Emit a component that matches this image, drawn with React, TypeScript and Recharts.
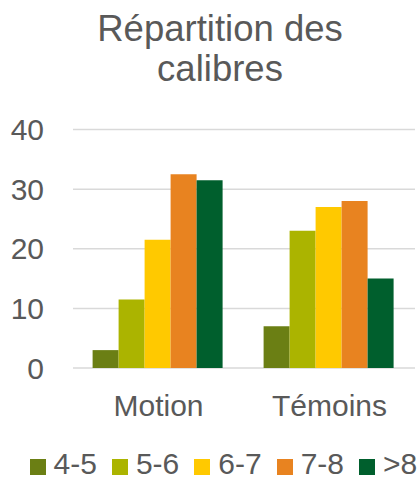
import React from "react";
import { BarChart, Bar, XAxis, YAxis, CartesianGrid, Legend } from "recharts";

const groups = ["Motion", "Témoins"];
const calibres = ["4-5", "5-6", "6-7", "7-8", ">8"];
const motion = [3, 11.5, 21.5, 32.5, 31.5];
const temoins = [7, 23, 27, 28, 15];
const colors = ["#6B7F14", "#ABB400", "#FFC900", "#E88320", "#005F2D"];
const yTicks = [0, 10, 20, 30, 40];

const values = [motion, temoins];
const data = groups.map((g, gi) => {
  const row: Record<string, string | number> = { name: g };
  calibres.forEach((c, ci) => {
    row[c] = values[gi][ci];
  });
  return row;
});

const FONT = '"Liberation Sans", Arial, sans-serif';
const TEXT = "#595959";

function CalibreLegend(props: any) {
  const payload = props.payload || [];
  return (
    <div style={{ position: "relative", width: 419, height: 477 }}>
      {payload.map((item: any, i: number) => (
        <div key={item.value}>
          <div
            style={{
              position: "absolute",
              left: 29.5 + i * 82.4,
              top: 458.5,
              width: 16,
              height: 16,
              background: item.color,
            }}
          />
          <div
            style={{
              position: "absolute",
              left: 53.5 + i * 82.4,
              top: 449,
              fontSize: 30,
              lineHeight: "30px",
              color: TEXT,
              fontFamily: FONT,
              whiteSpace: "nowrap",
            }}
          >
            {item.value}
          </div>
        </div>
      ))}
    </div>
  );
}

export default function App() {
  return (
    <div
      style={{
        position: "absolute",
        left: 0,
        top: 0,
        width: 419,
        height: 477,
        overflow: "hidden",
        background: "#fff",
        fontFamily: FONT,
      }}
    >
      <div
        style={{
          position: "absolute",
          left: 20,
          top: 9,
          width: 400,
          textAlign: "center",
          fontSize: 36.5,
          lineHeight: "40px",
          color: TEXT,
        }}
      >
        Répartition des
        <br />
        calibres
      </div>
      <BarChart
        width={419}
        height={477}
        data={data}
        margin={{ top: 129.5, right: 4, bottom: 0, left: 0 }}
        barCategoryGap={19.6}
        barGap={0}
      >
        <CartesianGrid vertical={false} stroke="#D9D9D9" strokeWidth={1.5} />
        <XAxis
          dataKey="name"
          height={109}
          axisLine={false}
          tickLine={false}
          tickMargin={21}
          tick={{ fontSize: 30, fill: TEXT, fontFamily: FONT }}
        />
        <YAxis
          width={73}
          domain={[0, 40]}
          ticks={yTicks}
          axisLine={false}
          tickLine={false}
          tickMargin={23}
          tick={{ fontSize: 30, fill: TEXT, fontFamily: FONT }}
        />
        <Legend
          layout="horizontal"
          verticalAlign="middle"
          align="center"
          content={<CalibreLegend />}
          wrapperStyle={{ position: "absolute", left: 0, top: 0, width: 419, height: 477, margin: 0 }}
        />
        {calibres.map((c, i) => (
          <Bar key={c} dataKey={c} name={c} fill={colors[i]} isAnimationActive={false} />
        ))}
      </BarChart>
    </div>
  );
}
